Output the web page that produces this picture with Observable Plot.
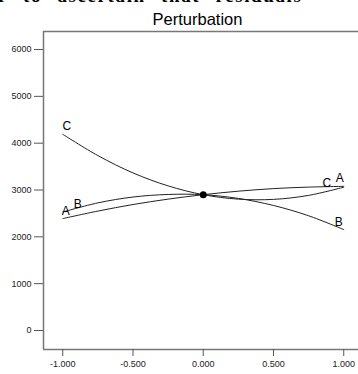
<!DOCTYPE html>
<html><head><meta charset="utf-8">
<script src="https://cdn.jsdelivr.net/npm/d3@7"></script>
<script src="https://cdn.jsdelivr.net/npm/@observablehq/plot@0.6"></script>
<style>
body{margin:0;background:#fff;}
#wrap{position:relative;width:358px;height:374px;overflow:hidden;}
#cut{position:absolute;top:-15px;left:-2px;width:380px;font:bold 19px "Liberation Serif","DejaVu Serif",serif;white-space:nowrap;word-spacing:9px;letter-spacing:1.6px;color:#000;}
#title{position:absolute;top:10px;left:40px;width:315px;text-align:center;font:16.5px "Liberation Sans",Arial,sans-serif;color:#000;}
</style></head><body>
<div id="wrap"><div id="chart"></div><div id="cut">r to ascertain that residuals</div><div id="title">Perturbation</div></div>
<script>
// Deviation from reference point (coded units)
const deviation = [-1, -0.75, -0.5, -0.25, 0, 0.25, 0.5, 0.75, 1];
// Response values
const seriesA = [2390, 2550, 2690, 2805, 2900, 2975, 3030, 3062, 3078];
const seriesB = [2530, 2725, 2850, 2905, 2900, 2820, 2670, 2450, 2155];
const seriesC = [4190, 3735, 3365, 3088, 2900, 2805, 2800, 2885, 3060];
const seriesNames = ["A", "B", "C"];
const xTicks = [-1, -0.5, 0, 0.5, 1];
const yTicks = [0, 1000, 2000, 3000, 4000, 5000, 6000];
const refPoint = [{x: 0, y: 2900}];

const seriesValues = {A: seriesA, B: seriesB, C: seriesC};
const rows = seriesNames.flatMap(s => deviation.map((x, i) => ({series: s, x, y: seriesValues[s][i]})));
const first = seriesNames.map(s => ({series: s, x: deviation[0], y: seriesValues[s][0]}));
const last = seriesNames.map(s => ({series: s, x: deviation[deviation.length - 1], y: seriesValues[s][deviation.length - 1]}));
const leftOff = {A: [3, -7], B: [15, -8], C: [4, -8]};
const rightOff = {A: [-4, -8], B: [-5, -7], C: [-17, -4]};

const font = "'Liberation Sans', Arial, sans-serif";
const chart = Plot.plot({
  width: 358,
  height: 374,
  marginLeft: 43,
  marginRight: 0,
  marginTop: 31,
  marginBottom: 25,
  style: {fontFamily: font, background: "#fff", color: "#000"},
  x: {domain: [-1.137, 1.105]},
  y: {domain: [-406, 6385]},
  marks: [
    Plot.ruleX([-1.137], {stroke: "#777", strokeWidth: 1.5}),
    Plot.ruleY([6385], {stroke: "#777", strokeWidth: 1.5}),
    Plot.ruleY([-406], {stroke: "#777", strokeWidth: 1.5}),
    Plot.axisY({ticks: yTicks, tickFormat: d => String(d), tickSize: 9, tickPadding: 3, fontSize: 9, stroke: "#555", fill: "#222", label: null}),
    Plot.axisX({ticks: xTicks, tickFormat: d => d.toFixed(3), tickSize: 7, tickPadding: 4, fontSize: 9, stroke: "#555", fill: "#222", label: null}),
    Plot.line(rows, {x: "x", y: "y", z: "series", curve: "catmull-rom", stroke: "#222", strokeWidth: 1}),
    Plot.dot(refPoint, {x: "x", y: "y", r: 3.5, fill: "#000"}),
    ...seriesNames.map(s => Plot.text(first.filter(d => d.series === s), {x: "x", y: "y", text: "series", dx: leftOff[s][0], dy: leftOff[s][1], fontSize: 12, fill: "#000"})),
    ...seriesNames.map(s => Plot.text(last.filter(d => d.series === s), {x: "x", y: "y", text: "series", dx: rightOff[s][0], dy: rightOff[s][1], fontSize: 12, fill: "#000"}))
  ]
});
document.getElementById("chart").appendChild(chart);
</script>
</body></html>
